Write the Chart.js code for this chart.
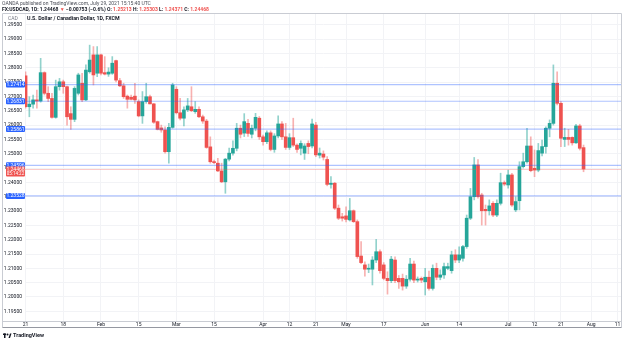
<!DOCTYPE html>
<html>
<head>
<meta charset="utf-8">
<script src="https://cdn.jsdelivr.net/npm/chart.js@4.4.1/dist/chart.umd.min.js"></script>
<style>
  html, body { margin: 0; padding: 0; background: #fff; }
  #wrap { width: 625px; height: 342px; }
</style>
</head>
<body>
<div id="wrap"><canvas id="chart" width="625" height="342"></canvas></div>
<script>
// USD/CAD daily candles, 4 Jan 2021 .. 29 Jul 2021 (one entry per trading day)
const opens = [
  1.2772, 1.2664, 1.2673, 1.2688, 1.2684, 1.2783, 1.2711, 1.2693, 1.2627, 1.2734,
  1.2751, 1.2734, 1.2640, 1.2620, 1.2711, 1.2746, 1.2688, 1.2786, 1.2845, 1.2781,
  1.2845, 1.2783, 1.2778, 1.2781, 1.2825, 1.2755, 1.2737, 1.2701, 1.2697, 1.2701,
  1.2682, 1.2632, 1.2682, 1.2699, 1.2674, 1.2612, 1.2590, 1.2583, 1.2507, 1.2592,
  1.2725, 1.2643, 1.2624, 1.2653, 1.2664, 1.2647, 1.2655, 1.2629, 1.2614, 1.2524,
  1.2472, 1.2467, 1.2440, 1.2402, 1.2481, 1.2502, 1.2519, 1.2589, 1.2572, 1.2606,
  1.2568, 1.2589, 1.2624, 1.2559, 1.2542, 1.2573, 1.2515, 1.2562, 1.2604, 1.2559,
  1.2522, 1.2556, 1.2530, 1.2519, 1.2502, 1.2536, 1.2527, 1.2600, 1.2495, 1.2499,
  1.2480, 1.2393, 1.2397, 1.2310, 1.2280, 1.2283, 1.2269, 1.2301, 1.2263, 1.2143,
  1.2112, 1.2097, 1.2097, 1.2129, 1.2158, 1.2112, 1.2065, 1.2057, 1.2129, 1.2065,
  1.2065, 1.2038, 1.2062, 1.2115, 1.2059, 1.2065, 1.2053, 1.2069, 1.2030, 1.2100,
  1.2069, 1.2077, 1.2100, 1.2092, 1.2147, 1.2129, 1.2135, 1.2176, 1.2275, 1.2350,
  1.2461, 1.2356, 1.2306, 1.2301, 1.2327, 1.2286, 1.2327, 1.2399, 1.2391, 1.2426,
  1.2304, 1.2336, 1.2455, 1.2472, 1.2527, 1.2449, 1.2443, 1.2502, 1.2525, 1.2589,
  1.2606, 1.2746, 1.2676, 1.2550, 1.2557, 1.2557, 1.2538, 1.2597, 1.25213
];
const highs = [
  1.2786, 1.2699, 1.2705, 1.2722, 1.2833, 1.2786, 1.2734, 1.2711, 1.2757, 1.2763,
  1.2757, 1.2736, 1.2664, 1.2734, 1.2781, 1.2781, 1.2810, 1.2879, 1.2874, 1.2874,
  1.2848, 1.2839, 1.2800, 1.2839, 1.2827, 1.2763, 1.2746, 1.2705, 1.2705, 1.2746,
  1.2688, 1.2717, 1.2746, 1.2705, 1.2676, 1.2614, 1.2600, 1.2594, 1.2606, 1.2746,
  1.2734, 1.2693, 1.2664, 1.2693, 1.2734, 1.2682, 1.2664, 1.2635, 1.2620, 1.2559,
  1.2478, 1.2484, 1.2467, 1.2484, 1.2520, 1.2545, 1.2606, 1.2600, 1.2640, 1.2620,
  1.2600, 1.2641, 1.2630, 1.2565, 1.2580, 1.2580, 1.2570, 1.2632, 1.2612, 1.2606,
  1.2570, 1.2624, 1.2535, 1.2545, 1.2535, 1.2545, 1.2621, 1.2610, 1.2520, 1.2510,
  1.2490, 1.2420, 1.2400, 1.2321, 1.2292, 1.2315, 1.2344, 1.2304, 1.2269, 1.2193,
  1.2123, 1.2115, 1.2141, 1.2201, 1.2165, 1.2120, 1.2088, 1.2142, 1.2140, 1.2075,
  1.2080, 1.2075, 1.2135, 1.2125, 1.2070, 1.2070, 1.2100, 1.2090, 1.2112, 1.2118,
  1.2095, 1.2118, 1.2118, 1.2160, 1.2165, 1.2175, 1.2180, 1.2286, 1.2379, 1.2487,
  1.2480, 1.2362, 1.2321, 1.2339, 1.2333, 1.2339, 1.2432, 1.2405, 1.2443, 1.2432,
  1.2350, 1.2472, 1.2502, 1.2589, 1.2559, 1.2513, 1.2536, 1.2548, 1.2594, 1.2618,
  1.2810, 1.2786, 1.2682, 1.2589, 1.2585, 1.2559, 1.2603, 1.2603, 1.25303
];
const lows = [
  1.2659, 1.2629, 1.2659, 1.2659, 1.2680, 1.2705, 1.2682, 1.2624, 1.2624, 1.2722,
  1.2711, 1.2600, 1.2585, 1.2612, 1.2705, 1.2682, 1.2685, 1.2781, 1.2740, 1.2769,
  1.2775, 1.2775, 1.2770, 1.2777, 1.2751, 1.2734, 1.2693, 1.2659, 1.2688, 1.2676,
  1.2629, 1.2606, 1.2676, 1.2674, 1.2606, 1.2583, 1.2575, 1.2502, 1.2467, 1.2589,
  1.2639, 1.2618, 1.2597, 1.2647, 1.2647, 1.2641, 1.2626, 1.2606, 1.2519, 1.2467,
  1.2465, 1.2437, 1.2399, 1.2362, 1.2475, 1.2495, 1.2510, 1.2555, 1.2560, 1.2560,
  1.2555, 1.2580, 1.2550, 1.2530, 1.2535, 1.2510, 1.2505, 1.2555, 1.2550, 1.2515,
  1.2515, 1.2525, 1.2505, 1.2496, 1.2480, 1.2500, 1.2520, 1.2490, 1.2485, 1.2478,
  1.2388, 1.2380, 1.2305, 1.2270, 1.2265, 1.2262, 1.2265, 1.2260, 1.2135, 1.2116,
  1.2073, 1.2085, 1.2042, 1.2120, 1.2083, 1.2060, 1.2010, 1.2050, 1.2050, 1.2030,
  1.2024, 1.2030, 1.2055, 1.2050, 1.2052, 1.2050, 1.2007, 1.2024, 1.2024, 1.2060,
  1.2060, 1.2065, 1.2095, 1.2083, 1.2120, 1.2120, 1.2125, 1.2170, 1.2270, 1.2339,
  1.2345, 1.2251, 1.2251, 1.2286, 1.2280, 1.2280, 1.2321, 1.2388, 1.2380, 1.2316,
  1.2298, 1.2304, 1.2450, 1.2467, 1.2437, 1.2420, 1.2437, 1.2492, 1.2502, 1.2559,
  1.2600, 1.2670, 1.2525, 1.2525, 1.2530, 1.2530, 1.2536, 1.2513, 1.24371
];
const closes = [
  1.2664, 1.2673, 1.2688, 1.2684, 1.2783, 1.2711, 1.2693, 1.2627, 1.2734, 1.2751,
  1.2734, 1.2629, 1.2620, 1.2728, 1.2775, 1.2688, 1.2792, 1.2827, 1.2775, 1.2845,
  1.2781, 1.2778, 1.2785, 1.2816, 1.2757, 1.2737, 1.2699, 1.2690, 1.2690, 1.2688,
  1.2632, 1.2682, 1.2699, 1.2674, 1.2610, 1.2585, 1.2583, 1.2507, 1.2592, 1.2740,
  1.2643, 1.2624, 1.2653, 1.2667, 1.2650, 1.2655, 1.2629, 1.2614, 1.2522, 1.2472,
  1.2469, 1.2440, 1.2402, 1.2481, 1.2502, 1.2519, 1.2589, 1.2568, 1.2612, 1.2571,
  1.2589, 1.2627, 1.2559, 1.2542, 1.2573, 1.2515, 1.2562, 1.2604, 1.2559, 1.2522,
  1.2556, 1.2530, 1.2515, 1.2536, 1.2527, 1.2525, 1.2604, 1.2496, 1.2502, 1.2488,
  1.2393, 1.2397, 1.2310, 1.2275, 1.2275, 1.2271, 1.2301, 1.2263, 1.2141, 1.2120,
  1.2097, 1.2100, 1.2129, 1.2158, 1.2092, 1.2065, 1.2057, 1.2132, 1.2057, 1.2053,
  1.2038, 1.2062, 1.2115, 1.2059, 1.2062, 1.2059, 1.2069, 1.2030, 1.2100, 1.2069,
  1.2077, 1.2106, 1.2106, 1.2147, 1.2129, 1.2147, 1.2176, 1.2275, 1.2350, 1.2461,
  1.2350, 1.2301, 1.2301, 1.2318, 1.2286, 1.2327, 1.2399, 1.2394, 1.2426, 1.2321,
  1.2333, 1.2455, 1.2472, 1.2527, 1.2441, 1.2443, 1.2511, 1.2525, 1.2589, 1.2606,
  1.2746, 1.2676, 1.2554, 1.2557, 1.2550, 1.2538, 1.2597, 1.2519, 1.24468
];

// time axis labels (bar index -> text)
const timeTickIdx  = [0, 10, 20, 30, 40, 50, 63, 70, 77, 85, 95, 106, 115, 128, 135, 142, 150, 157];
const timeTickText = ['21', '18', 'Feb', '15', 'Mar', '15', 'Apr', '12', '21', 'May', '17', 'Jun', '14', 'Jul', '12', '21', 'Aug', '11'];

// price scale labels
const priceTicks = [1.195, 1.200, 1.205, 1.210, 1.215, 1.220, 1.225, 1.230, 1.235, 1.240,
                    1.245, 1.250, 1.255, 1.260, 1.265, 1.270, 1.275, 1.280, 1.285, 1.290, 1.295];

// horizontal levels and the live price marker
const levelLines = [1.27414, 1.26831, 1.25861, 1.24596, 1.23528];
const lastPrice = 1.24468;
const countdown = '05:14:22';

const UP = '#26a69a', DOWN = '#ef5350', BLUE = '#2962ff';
const FONT = 'Roboto, "Liberation Sans", Arial, sans-serif';

const bars = opens.map((_, i) => i);
const isUp = i => closes[i] >= opens[i];
const wickData = bars.map(i => ({ x: i, y: [lows[i], highs[i]] }));
const bodyData = bars.map(i => ({ x: i, y: [Math.min(opens[i], closes[i]), Math.max(opens[i], closes[i])] }));

function box(ctx, x, y, w, h, r, color) {
  ctx.fillStyle = color;
  ctx.beginPath();
  ctx.roundRect(x, y, w, h, r);
  ctx.fill();
}

const overlay = {
  id: 'overlay',
  afterDatasetsDraw(chart) {
    const { ctx, chartArea: a, scales: { y } } = chart;
    ctx.save();
    // live price line
    let py = Math.round(y.getPixelForValue(lastPrice)) + 0.5;
    ctx.strokeStyle = 'rgba(239,83,80,0.3)';
    ctx.lineWidth = 1;
    ctx.beginPath(); ctx.moveTo(a.left, py); ctx.lineTo(a.right, py); ctx.stroke();
    // horizontal levels
    ctx.strokeStyle = 'rgba(41,98,255,0.38)';
    ctx.lineWidth = 1.2;
    levelLines.forEach(v => {
      const ly = y.getPixelForValue(v);
      ctx.beginPath(); ctx.moveTo(a.left, ly); ctx.lineTo(a.right, ly); ctx.stroke();
    });
    ctx.restore();
  },
  afterDraw(chart) {
    const { ctx, chartArea: a, scales: { y } } = chart;
    ctx.save();

    // frame around the pane
    ctx.strokeStyle = '#c9ccd3';
    ctx.lineWidth = 1;
    ctx.beginPath();
    ctx.moveTo(2.5, 13.5); ctx.lineTo(621.5, 13.5);
    ctx.moveTo(2.5, 13.5); ctx.lineTo(2.5, 327.5);
    ctx.moveTo(621.5, 13.5); ctx.lineTo(621.5, 327.5);
    ctx.moveTo(2.5, a.bottom + 0.5); ctx.lineTo(621.5, a.bottom + 0.5);
    ctx.stroke();
    ctx.strokeStyle = '#9598a1';
    ctx.beginPath(); ctx.moveTo(2.5, 327.5); ctx.lineTo(621.5, 327.5); ctx.stroke();

    // level tags on the price scale
    ctx.textAlign = 'center';
    ctx.textBaseline = 'middle';
    ctx.font = `5px ${FONT}`;
    levelLines.forEach(v => {
      const ly = y.getPixelForValue(v);
      box(ctx, 6, ly - 3, 19, 6, 1, BLUE);
      ctx.fillStyle = '#fff';
      ctx.fillText(v.toFixed(5), 15.5, ly + 0.3);
    });
    const py = y.getPixelForValue(lastPrice);
    box(ctx, 6, py - 2.5, 19, 10, 1, DOWN);
    ctx.fillStyle = '#fff';
    ctx.fillText(lastPrice.toFixed(5), 15.5, py + 0.3);
    ctx.font = `4.5px ${FONT}`;
    ctx.fillText(countdown, 15.5, py + 5);

    // pane captions
    ctx.textAlign = 'left';
    ctx.fillStyle = '#787b86';
    ctx.font = `5px ${FONT}`;
    ctx.fillText('CAD', 8, 18.5);
    ctx.fillStyle = '#131722';
    ctx.font = `bold 5.3px ${FONT}`;
    ctx.fillText('U.S. Dollar / Canadian Dollar, 1D, FXCM', 27, 19);

    // header
    ctx.font = `5px ${FONT}`;
    ctx.fillStyle = '#4a4d57';
    ctx.fillText('OANDA published on TradingView.com, July 29, 2021 15:15:40 UTC', 2, 3.5);
    const parts = [
      ['FX:USDCAD, 1D: ', '#131722'], ['1.24468 ', '#131722'], ['\u25BC ', DOWN],
      ['\u22120.00753 (\u22120.6%) ', '#131722'],
      ['O: ', '#131722'], ['1.25213 ', DOWN], ['H: ', '#131722'], ['1.25303 ', DOWN],
      ['L: ', '#131722'], ['1.24371 ', DOWN], ['C: ', '#131722'], ['1.24468', DOWN]
    ];
    let tx = 2;
    ctx.font = `bold 5px ${FONT}`;
    parts.forEach(([t, c]) => {
      ctx.fillStyle = c;
      ctx.fillText(t, tx, 9.5);
      tx += ctx.measureText(t).width;
    });

    // footer logo
    ctx.fillStyle = '#131722';
    ctx.fillRect(3, 333.5, 3, 1.5);
    ctx.fillRect(4, 333.5, 1.5, 4.5);
    ctx.beginPath(); ctx.arc(7.5, 334.5, 1, 0, Math.PI * 2); ctx.fill();
    ctx.beginPath(); ctx.moveTo(8.5, 338); ctx.lineTo(10, 333.5); ctx.lineTo(11.5, 333.5); ctx.lineTo(10, 338); ctx.closePath(); ctx.fill();
    ctx.font = `bold 5.5px ${FONT}`;
    ctx.fillText('TradingView', 13, 336);
    ctx.restore();
  }
};

new Chart(document.getElementById('chart'), {
  type: 'bar',
  data: {
    datasets: [
      {
        label: 'wick',
        data: wickData,
        backgroundColor: bars.map(i => isUp(i) ? 'rgba(38,166,154,0.5)' : 'rgba(239,83,80,0.45)'),
        barThickness: 1,
        minBarLength: 1,
        grouped: false,
        borderWidth: 0
      },
      {
        label: 'body',
        data: bodyData,
        backgroundColor: bars.map(i => isUp(i) ? UP : DOWN),
        barThickness: 3,
        minBarLength: 1,
        grouped: false,
        borderWidth: 0
      }
    ]
  },
  options: {
    responsive: false,
    animation: false,
    devicePixelRatio: 1,
    layout: { autoPadding: false, padding: { left: 2, right: 3, top: 14, bottom: 14 } },
    plugins: { legend: { display: false }, tooltip: { enabled: false } },
    scales: {
      x: {
        type: 'linear',
        min: -0.15,
        max: 158.2,
        offset: false,
        afterBuildTicks: s => { s.ticks = timeTickIdx.map(v => ({ value: v })); },
        afterFit: s => { s.height = 7; },
        ticks: {
          autoSkip: false,
          maxRotation: 0,
          padding: 1,
          color: '#131722',
          font: { family: FONT, size: 5 },
          callback: v => timeTickText[timeTickIdx.indexOf(v)]
        },
        grid: { color: '#f2f3f6', drawTicks: false, offset: false },
        border: { display: false }
      },
      y: {
        position: 'left',
        min: 1.19162,
        max: 1.29877,
        afterBuildTicks: s => { s.ticks = priceTicks.map(v => ({ value: v })); },
        afterFit: s => { s.width = 23; },
        ticks: {
          padding: 3,
          color: '#131722',
          font: { family: FONT, size: 5 },
          callback: v => v.toFixed(5)
        },
        grid: { color: '#f2f3f6', drawTicks: false },
        border: { display: false }
      }
    }
  },
  plugins: [overlay]
});
</script>
</body>
</html>
